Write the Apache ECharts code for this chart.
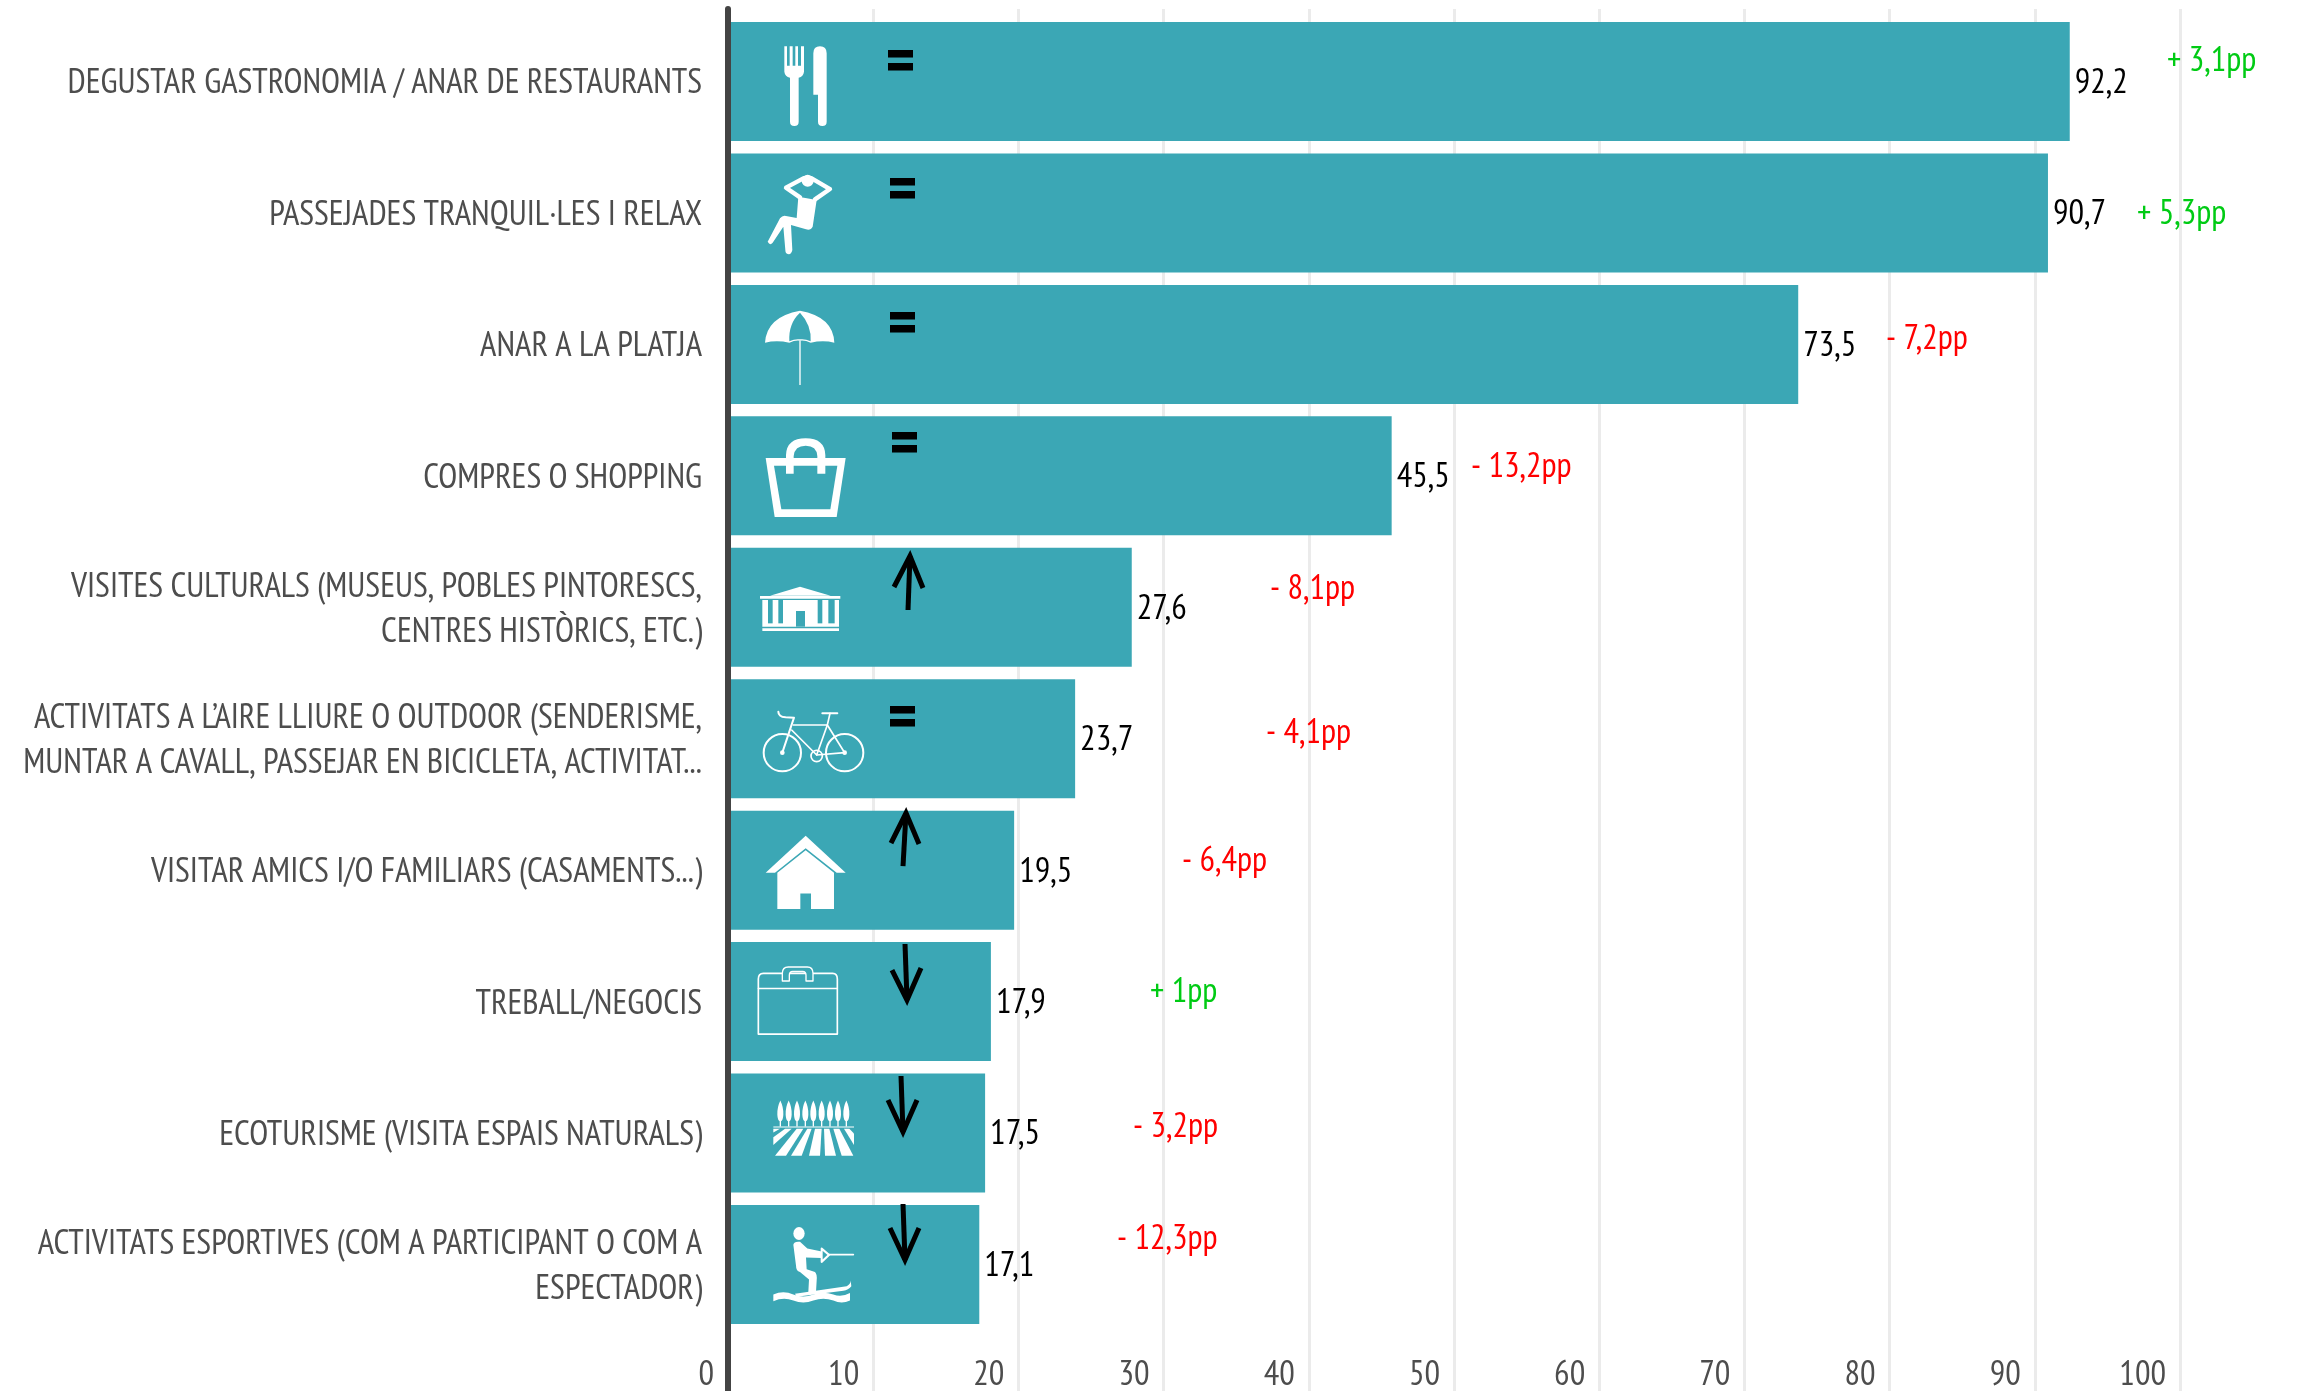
<!DOCTYPE html>
<html>
<head>
<meta charset="utf-8">
<title>Activitats</title>
<script src="https://cdn.jsdelivr.net/npm/echarts@6/dist/echarts.min.js"></script>
<style>
  html, body { margin: 0; padding: 0; background: #fff; }
  #main { width: 2305px; height: 1391px; }
</style>
</head>
<body>
<div id="main"></div>
<script>
// values
const categories = [
  'DEGUSTAR GASTRONOMIA / ANAR DE RESTAURANTS',
  'PASSEJADES TRANQUIL·LES I RELAX',
  'ANAR A LA PLATJA',
  'COMPRES O SHOPPING',
  'VISITES CULTURALS (MUSEUS, POBLES PINTORESCS,\nCENTRES HISTÒRICS, ETC.)',
  'ACTIVITATS A L’AIRE LLIURE O OUTDOOR (SENDERISME,\nMUNTAR A CAVALL, PASSEJAR EN BICICLETA, ACTIVITAT...',
  'VISITAR AMICS I/O FAMILIARS (CASAMENTS...)',
  'TREBALL/NEGOCIS',
  'ECOTURISME (VISITA ESPAIS NATURALS)',
  'ACTIVITATS ESPORTIVES (COM A PARTICIPANT O COM A\nESPECTADOR)'
];
const values = [92.2, 90.7, 73.5, 45.5, 27.6, 23.7, 19.5, 17.9, 17.5, 17.1];
const diffs = ['+ 3,1pp', '+ 5,3pp', '- 7,2pp', '- 13,2pp', '- 8,1pp', '- 4,1pp', '- 6,4pp', '+ 1pp', '- 3,2pp', '- 12,3pp'];
const trends = ['=', '=', '=', '=', 'up', '=', 'up', 'down', 'down', 'down'];

const FONT = '"PT Sans Narrow", "Roboto Condensed", sans-serif';
const FONT_SIZE = 34.6;
const TEAL = '#3ba7b5';
const GREEN = '#00cb14';
const RED = '#ff0000';

// measured row centres in the picture, the drawings below are relative to them
const ROW0 = 81.5, ROW_STEP = 131.44;
// bars start just right of the axis line
const BAR_LEFT = 731;

// where the notes sit in the picture (left edge, centre y)
const diffPos = [[2167, 61], [2137, 214], [1886, 339], [1471, 467], [1270, 589], [1266, 733], [1182, 861], [1150, 992], [1133, 1127], [1117, 1239]];
// "=" signs: left, top of first stroke
const eqPos = { 0: [888, 50], 1: [890, 178], 2: [890, 312], 3: [892, 432], 5: [890, 706] };
// arrows: tail, tip, wing, wing
const arrowPos = {
  4: [[908, 610], [910, 556], [894, 587], [923, 588]],
  6: [[903, 866], [906, 813], [891, 843], [919, 844]],
  7: [[905, 944], [907, 1000], [892, 970], [921, 968]],
  8: [[901, 1076], [903, 1132], [888, 1100], [917, 1100]],
  9: [[903, 1204], [905, 1260], [890, 1228], [919, 1228]]
};

function w(d) { return { d: d, fill: '#fff' }; }
function t(d) { return { d: d, fill: TEAL }; }
function s(d, lw) { return { d: d, stroke: '#fff', lw: lw }; }
function circle(cx, cy, r) {
  return 'M' + (cx - r) + ' ' + cy + 'A' + r + ' ' + r + ' 0 1 1 ' + (cx + r) + ' ' + cy + 'A' + r + ' ' + r + ' 0 1 1 ' + (cx - r) + ' ' + cy + 'Z';
}

const trees = [181, 206, 231, 256, 280, 305, 330, 354, 379].map(function (x) {
  return w('M' + x + ' 797Q' + (x + 10) + ' 815 ' + (x + 9) + ' 835Q' + (x + 8) + ' 850 ' + (x + 2) + ' 852L' + (x + 2) + ' 866L' + (x - 2) + ' 866L' + (x - 2) + ' 852Q' + (x - 8) + ' 850 ' + (x - 9) + ' 835Q' + (x - 10) + ' 815 ' + x + ' 797Z');
});

// icons traced in crop units: [left, top, scaleX, scaleY, parts]
const icons = [
  [720, 0, 1 / 3, 1 / 3, [
    w('M193 139L201 139L201 197L209 197L209 139L218 139L218 197L226 197L226 139L234 139L234 197L243 197L243 139L252 139L252 215Q250 230 236 233L236 365Q236 378 223 378Q210 378 210 365L210 233Q195 230 193 215Z'),
    w('M280 160Q280 139 300 139Q320 139 320 160L320 365Q320 378 307 378Q294 378 294 365L294 284L280 284Z')
  ]],
  [720, 0, 1 / 3, 1 / 3, [
    w('M235 590L290 600L278 680Q272 692 258 688L213 675L217 750Q214 765 203 762Q196 760 196 750L190 680L158 728Q150 738 143 725L180 655Q188 645 198 648L230 654Z'),
    s('M240 592L198 563L250 535', 13),
    s('M285 598L330 567L275 535', 13),
    w(circle(263, 542, 18)),
    t('M222 562L245 552Q250 572 262 572Q278 572 280 552L303 566L285 578L240 576Z')
  ]],
  [720, 300, 1 / 3, 1 / 3, [
    w('M135 128Q140 50 240 32Q340 50 343 128Q310 120 272 128Q255 120 240 122Q225 120 208 128Q170 120 135 128Z'),
    t('M240 38Q205 70 208 124Q225 116 240 118Q255 116 272 124Q275 75 240 38Z'),
    w('M238 122L242 122L242 255L238 255Z')
  ]],
  [720, 300, 1 / 3, 1 / 3, [
    w('M137 474L377 474L350 651L164 651Z'),
    t('M162 497L352 497L331 628L184 628Z'),
    w('M198 521L198 465Q200 415 257 415Q314 415 316 465L316 521L292 521L292 474L221 474L221 521Z'),
    t('M221 474L221 468Q224 437 257 437Q290 437 292 468L292 474Z')
  ]],
  [720, 300, 1 / 3, 1 / 3, [
    w('M150 887L240 860L332 887Z'),
    w('M120 888L361 888L361 896L120 896Z'),
    w('M127 900L357 900L357 980L127 980Z'),
    t('M144 900L158 900L158 970L144 970Z'),
    t('M175 900L189 900L189 970L175 970Z'),
    t('M293 900L307 900L307 970L293 970Z'),
    t('M325 900L344 900L344 970L325 970Z'),
    t('M228 933L255 933L255 980L228 980Z'),
    w('M127 985L357 985L357 993L127 993Z')
  ]],
  [720, 300, 1 / 3, 1 / 3, [
    s(circle(187, 1358, 56), 6),
    s(circle(374, 1358, 56), 6),
    s(circle(290, 1368, 17), 5),
    s('M187 1358L222 1253L197 1252Q175 1250 175 1235', 6),
    s('M220 1275L322 1275L290 1365L215 1290', 5),
    s('M290 1365L374 1358L322 1275L330 1240', 5),
    s('M307 1240L352 1240', 6),
    w(circle(187, 1358, 7)),
    w(circle(374, 1358, 7))
  ]],
  [720, 800, 1 / 3, 1 / 2.653, [
    w('M137 193L257 95L377 193L350 193L257 128L165 193Z'),
    w('M172 193L257 133L342 193L342 289L273 289L273 248L241 248L241 289L172 289Z')
  ]],
  [720, 800, 1 / 3, 1 / 2.653, [
    s('M115 621L115 475Q115 460 130 460L338 460Q352 460 352 475L352 621Z', 5),
    s('M115 500L352 500', 4),
    { d: 'M187 480L187 460Q187 443 205 443L262 443Q279 443 279 460L279 480L258 480L258 465Q258 455 248 455L218 455Q208 455 208 465L208 480Z', fill: TEAL, stroke: '#fff', lw: 4 }
  ]],
  [720, 800, 1 / 3, 1 / 2.653, trees.concat([
    w('M160 866L402 866L402 869L160 869Z'),
    w('M230 872L250 872L198 944L165 944Z'),
    w('M262 872L275 872L245 944L213 944Z'),
    w('M285 872L305 872L300 944L267 944Z'),
    w('M312 872L328 872L348 944L315 944Z'),
    w('M340 872L358 872L400 944L365 944Z'),
    w('M195 872L215 872L160 915L160 895Z'),
    w('M160 872L180 872L160 882Z'),
    w('M372 872L388 872L402 885L402 915Z')
  ])],
  [720, 800, 1 / 3, 1 / 2.653, [
    w(circle(237, 1150, 17)),
    w('M220 1180Q222 1170 240 1172L262 1190L305 1198L305 1215L258 1214L260 1245L285 1252Q292 1258 290 1275L288 1305L265 1305L267 1272L240 1252Q228 1250 228 1235Z'),
    s('M305 1190L327 1207L305 1225Z', 6),
    s('M327 1206L400 1206', 5),
    w('M225 1310L380 1290Q392 1285 392 1275L394 1290Q385 1300 370 1302L230 1318Z'),
    w('M160 1312Q190 1300 220 1312Q250 1322 280 1312Q310 1302 340 1312Q365 1320 390 1308L390 1328Q365 1338 340 1328Q310 1318 280 1328Q250 1338 220 1328Q190 1318 160 1330Z')
  ]]
];

// one row's icon, trend mark and note, moved along with the category scale
function renderRow(params, api) {
  let i = api.value(1);
  let ic = icons[i];
  let at = api.coord([0, i]);
  let children = [{
    type: 'group', x: ic[0], y: ic[1], scaleX: ic[2], scaleY: ic[3],
    children: ic[4].map(function (p) {
      return {
        type: 'path',
        shape: { pathData: p.d },
        style: { fill: p.fill || 'none', stroke: p.stroke || 'none', lineWidth: p.lw || 0, lineJoin: 'round', lineCap: 'round' }
      };
    })
  }];

  if (trends[i] === '=') {
    [0, 13].forEach(function (dy) {
      children.push({ type: 'rect', shape: { x: eqPos[i][0], y: eqPos[i][1] + dy, width: 25, height: 7.5 }, style: { fill: '#000' } });
    });
  } else {
    let a = arrowPos[i];
    children.push({ type: 'polyline', shape: { points: [a[0], a[1]] }, style: { stroke: '#000', lineWidth: 5, fill: 'none' } });
    children.push({ type: 'polyline', shape: { points: [a[2], a[1], a[3]] }, style: { stroke: '#000', lineWidth: 5, fill: 'none', lineJoin: 'miter' } });
  }

  children.push({
    type: 'text', x: diffPos[i][0], y: diffPos[i][1],
    style: { text: diffs[i], fill: diffs[i].charAt(0) === '+' ? GREEN : RED, font: FONT_SIZE + 'px ' + FONT, textAlign: 'left', textVerticalAlign: 'middle' }
  });

  return { type: 'group', x: at[0] - BAR_LEFT, y: at[1] - (ROW0 + ROW_STEP * i), silent: true, children: children };
}

let chart = echarts.init(document.getElementById('main'), null, { renderer: 'canvas' });

let option = {
  animation: false,
  backgroundColor: '#fff',
  textStyle: { fontFamily: FONT },
  grid: [
    { left: BAR_LEFT, width: 1452, top: 15.8, height: 1314.4, outerBoundsMode: 'none' },
    { left: 728, width: 1452, top: 9, bottom: 0, outerBoundsMode: 'none' },
    // category names sit a touch lower than the bar centres
    { left: BAR_LEFT, width: 1452, top: 17.8, height: 1314.4, outerBoundsMode: 'none' }
  ],
  xAxis: [
    { gridIndex: 0, type: 'value', min: 0, max: 100, show: false },
    {
      gridIndex: 1, type: 'value', min: 0, max: 100, interval: 10,
      axisLine: { show: false },
      axisTick: { show: false },
      splitLine: { show: true, lineStyle: { color: '#ebebeb', width: 3 } },
      axisLabel: {
        inside: true, margin: -2, align: 'right', padding: [0, 14, 0, 0],
        color: '#4d4d4d', fontSize: FONT_SIZE, fontFamily: FONT
      }
    },
    { gridIndex: 2, type: 'value', min: 0, max: 100, show: false }
  ],
  yAxis: [
    { gridIndex: 0, type: 'category', data: categories, inverse: true, show: false },
    {
      gridIndex: 1, type: 'category', data: [''], z: 5,
      axisLine: { show: true, lineStyle: { color: '#444444', width: 6 } },
      axisTick: { show: false },
      axisLabel: { show: false }
    },
    {
      gridIndex: 2, type: 'category', data: categories, inverse: true,
      axisLine: { show: false },
      axisTick: { show: false },
      axisLabel: {
        margin: 29, color: '#4d4d4d', fontSize: FONT_SIZE, lineHeight: 45,
        fontFamily: FONT, align: 'right', interval: 0
      }
    }
  ],
  series: [
    {
      type: 'bar', xAxisIndex: 0, yAxisIndex: 0, data: values, barWidth: 119, z: 2,
      itemStyle: { color: TEAL },
      label: {
        show: true, position: 'right', distance: 5, offset: [0, 1.5], color: '#000', fontSize: FONT_SIZE, fontFamily: FONT,
        formatter: function (p) { return String(p.value).replace('.', ','); }
      }
    },
    {
      type: 'custom', xAxisIndex: 0, yAxisIndex: 0, z: 10, clip: false, silent: true,
      data: categories.map(function (c, i) { return [0, i]; }),
      encode: { x: 0, y: 1 },
      renderItem: renderRow
    }
  ]
};

chart.setOption(option);
window.addEventListener('resize', chart.resize);
</script>
</body>
</html>
